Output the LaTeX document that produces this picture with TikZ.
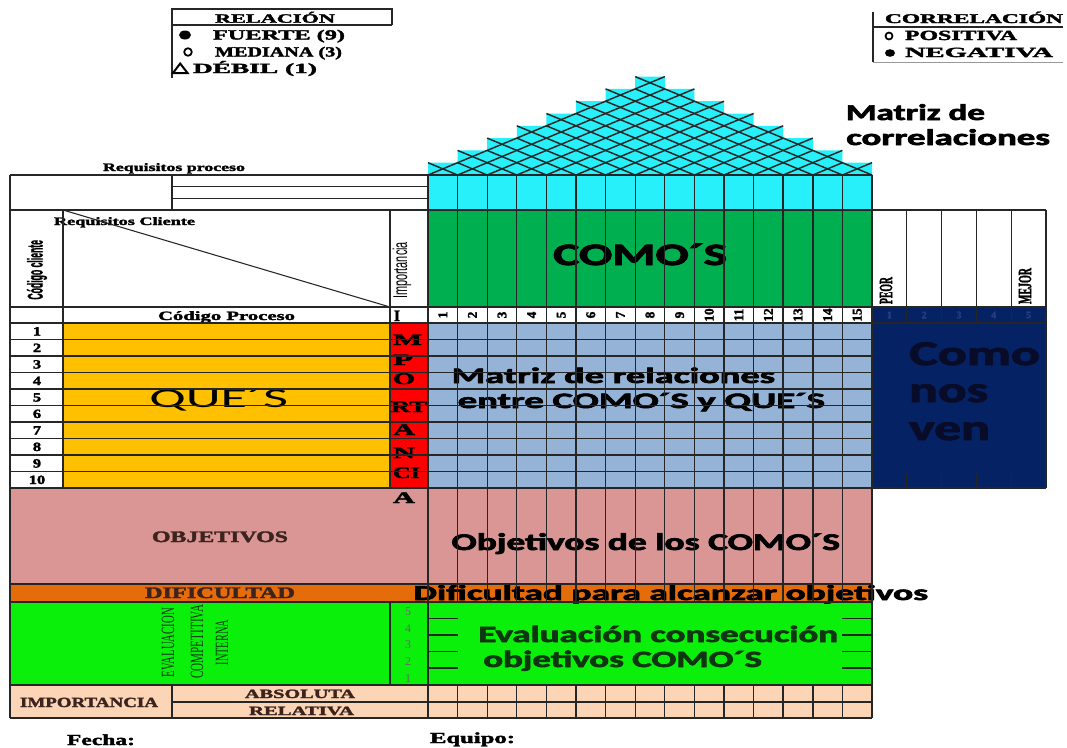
\documentclass[tikz,border=0pt]{standalone}
\usepackage{fontspec}
\usepackage{graphicx}
\setmainfont{Liberation Serif}[BoldFeatures={FakeBold=2}]
\newfontfamily\calib{Carlito}[BoldFeatures={FakeBold=2.5}]
\newfontfamily\arl{Liberation Sans}[BoldFeatures={FakeBold=1.5}]
\newdimen\px \px=0.75pt
\newcommand\fz[1]{\fontsize{#1}{#1}\selectfont}
\newcommand\fw[2]{\resizebox{#1\px}{\height}{#2}}
\definecolor{cy}{RGB}{40,240,250}
\definecolor{gr}{RGB}{0,176,80}
\definecolor{lb}{RGB}{149,179,215}
\definecolor{nv}{RGB}{5,35,100}
\definecolor{og}{RGB}{255,192,0}
\definecolor{rd}{RGB}{255,0,0}
\definecolor{pk}{RGB}{217,150,148}
\definecolor{do}{RGB}{228,108,10}
\definecolor{lg}{RGB}{10,240,10}
\definecolor{pc}{RGB}{251,213,181}
\definecolor{nvtxt}{RGB}{8,12,40}
\definecolor{nvnum}{RGB}{40,62,125}
\definecolor{dgtxt}{RGB}{15,55,15}
\definecolor{brtxt}{RGB}{60,35,30}
\begin{document}
\begin{tikzpicture}[x=0.75pt,y=-0.75pt,
  txt/.style={inner sep=0pt,outer sep=0pt,anchor=base west},
  ctr/.style={inner sep=0pt,outer sep=0pt,anchor=center},
  g/.style={line width=0.8pt,draw=black!85},
  gb/.style={line width=1.3pt,draw=black!85},
  roofln/.style={line width=1.1pt,draw=black!85}]
\useasboundingbox (0,0) rectangle (1067,747);
\fill[white] (0,0) rectangle (1067,747);

% ---------- fills ----------
\fill[cy] (428,175) -- (428,162.7) -- (457.6,162.7) -- (457.6,150.4) -- (487.2,150.4) -- (487.2,138.1) -- (516.8,138.1) -- (516.8,125.8) -- (546.4,125.8) -- (546.4,113.5) -- (576,113.5) -- (576,101.2) -- (605.6,101.2) -- (605.6,88.9) -- (635.2,88.9) -- (635.2,76.6) -- (664.8,76.6) -- (664.8,88.9) -- (694.4,88.9) -- (694.4,101.2) -- (724,101.2) -- (724,113.5) -- (753.6,113.5) -- (753.6,125.8) -- (783.2,125.8) -- (783.2,138.1) -- (812.8,138.1) -- (812.8,150.4) -- (842.4,150.4) -- (842.4,162.7) -- (872,162.7) -- (872,175) -- cycle;
\fill[cy] (428,175) rectangle (872,210);
\fill[gr] (428,210) rectangle (872,307);
\fill[lb] (428,323) rectangle (872,488);
\fill[og] (63,323) rectangle (390,488);
\fill[rd] (390,323) rectangle (428,488);
\fill[nv] (872,307) rectangle (1046,488);
\fill[pk] (10,488) rectangle (872,584);
\fill[do] (10,584) rectangle (872,602);
\fill[lg] (10,602) rectangle (872,685);
\fill[pc] (10,685) rectangle (872,718);

% ---------- roof lattice ----------
\foreach \i in {0,...,14} {
  \pgfmathtruncatemacro\K{floor((14-\i)/2)}
  \pgfmathsetmacro\xa{428+29.6*\i}
  \pgfmathsetmacro\xb{428+29.6*(\i+\K+1)}
  \pgfmathsetmacro\yb{175-12.3*(\K+1)}
  \draw[roofln] (\xa,175) -- (\xb,\yb);
}
\foreach \j in {1,...,15} {
  \pgfmathtruncatemacro\K{floor((\j-1)/2)}
  \pgfmathsetmacro\xa{428+29.6*\j}
  \pgfmathsetmacro\xb{428+29.6*(\j-\K-1)}
  \pgfmathsetmacro\yb{175-12.3*(\K+1)}
  \draw[roofln] (\xa,175) -- (\xb,\yb);
}

% ---------- legends ----------
\draw[g] (172,78) -- (172,9) -- (392,9) -- (392,25);
\draw[g] (172,25) -- (392,25);
\node[txt] (lrel) at (215,22.7) {\fw{120}{\fz{9.5}\bfseries RELACIÓN}};
\fill (185,35) ellipse [x radius=6, y radius=4.5];
\node[txt] (lfue) at (213,39.5) {\fw{132}{\fz{10.5}\bfseries FUERTE (9)}};
\draw[line width=1.3pt] (188,52) circle [radius=3.8];
\node[txt] (lmed) at (215,56.5) {\fw{127}{\fz{10.5}\bfseries MEDIANA (3)}};
\draw[line width=1.5pt] (173,73) -- (187.5,73) -- (180.2,63.5) -- cycle;
\node[txt] (ldeb) at (193,73) {\fw{124}{\fz{10.5}\bfseries DÉBIL (1)}};

\draw[g] (873,12) -- (873,62);
\draw[g] (873,27) -- (1063,27);
\draw[line width=0.6pt,draw=black!40] (873,62) -- (1063,62);
\node[txt] (lcor) at (885,23) {\fw{178}{\fz{10}\bfseries CORRELACIÓN}};
\draw[line width=1.3pt] (889,36) circle [radius=3.5];
\node[txt] (lpos) at (905,40) {\fw{112}{\fz{10.5}\bfseries POSITIVA}};
\fill (890,53) ellipse [x radius=5, y radius=3.8];
\node[txt] (lneg) at (905,57) {\fw{148}{\fz{10.5}\bfseries NEGATIVA}};

% ---------- big labels ----------
\node[txt] (mcor1) at (838,120) {\fw{147}{\calib\bfseries\fz{17} Matriz de}};
\node[txt] (mcor2) at (838,145) {\fw{212}{\calib\bfseries\fz{17} correlaciones}};
\node[txt] (comos) at (542,265) {\fw{185}{\calib\bfseries\fz{23.3} COMO´S}};
\node[txt] (ques) at (137,407) {\fw{151}{\calib\fz{20.5} QUE´S}};
\node[txt] (mrel1) at (443,383) {\fw{332}{\calib\bfseries\fz{16.5} Matriz de relaciones}};
\node[txt] (mrel2) at (449,408) {\fw{376}{\calib\bfseries\fz{16.5} entre COMO´S y QUE´S}};
\node[txt] (obj) at (443,550) {\fw{397}{\calib\bfseries\fz{18} Objetivos de los COMO´S}};
\node[txt] (dif) at (405,600) {\fw{523}{\calib\bfseries\fz{16} Dificultad para alcanzar objetivos}};
\node[txt,text=dgtxt] (eva1) at (470,642) {\fw{368}{\calib\bfseries\fz{17.5} Evaluación consecución}};
\node[txt,text=dgtxt] (eva2) at (475,667) {\fw{287}{\calib\bfseries\fz{17.5} objetivos COMO´S}};
\node[txt,text=nvtxt] (cnv1) at (897,365) {\fw{143}{\calib\bfseries\fz{26} Como}};
\node[txt,text=nvtxt] (cnv2) at (897,402) {\fw{91}{\calib\bfseries\fz{27} nos}};
\node[txt,text=nvtxt] (cnv3) at (897,440) {\fw{93}{\calib\bfseries\fz{27} ven}};

% ---------- small labels ----------
\node[txt] (rqp) at (103,171) {\fw{142}{\fz{8.5}\bfseries Requisitos proceso}};
\node[txt] (rqc) at (54,225) {\fw{141}{\fz{8.5}\bfseries Requisitos Cliente}};
\node[ctr,rotate=90] (cod) at (37,271) {\fw{62}{\arl\bfseries\fz{16} Código cliente}};
\node[ctr,rotate=90] (imp) at (402,272) {\fw{60}{\arl\fz{15} Importancia}};
\node[txt] (cpr) at (158,320) {\fw{137}{\fz{9.5}\bfseries Código Proceso}};
\node[ctr,rotate=90] (peor) at (886,290.5) {\fw{27}{\fz{14}\bfseries PEOR}};
\node[ctr,rotate=90] (mejor) at (1025,286) {\fw{36}{\fz{14}\bfseries MEJOR}};
\foreach \i in {1,...,15} {
  \pgfmathsetmacro\xc{428+29.6*\i-14.8}
  \node[ctr,rotate=90] (cn\i) at (\xc,315) {\fz{10}\bfseries\i};
}
\foreach \i in {1,...,5} {
  \pgfmathsetmacro\xc{872+34.8*\i-17.4}
  \node[ctr,text=nvnum] (vn\i) at (\xc,315) {\fz{7.5}\bfseries\i};
}
\foreach \i in {1,...,10} {
  \pgfmathsetmacro\yc{323+16.5*\i-4}
  \node[inner sep=0pt,anchor=base] (rn\i) at (37,\yc) {\scalebox{1.3}[1]{\fz{9.5}\bfseries\i}};
}
% IMPORTANCIA letters
\node[txt] (li) at (394,321) {\fw{6}{\fz{12}\bfseries I}};
\node[txt] (lm) at (393,345) {\fw{29}{\fz{12}\bfseries M}};
\node[txt] (lp) at (393,365) {\fw{20}{\fz{12}\bfseries P}};
\node[txt] (lo) at (393,384) {\fw{22}{\fz{12}\bfseries O}};
\node[txt] (lrt) at (391,412) {\fw{36}{\fz{12}\bfseries RT}};
\node[txt] (la1) at (393,435) {\fw{22}{\fz{12}\bfseries A}};
\node[txt] (ln) at (393,458) {\fw{22}{\fz{12}\bfseries N}};
\node[txt] (lci) at (393,478) {\fw{27}{\fz{12}\bfseries CI}};
\node[txt] (la2) at (393,503) {\fw{22}{\fz{12}\bfseries A}};

\node[txt,text=brtxt] (objl) at (152,542) {\fw{136}{\fz{12}\bfseries OBJETIVOS}};
\node[txt,text=brtxt] (difl) at (145,598) {\fw{150}{\fz{12}\bfseries DIFICULTAD}};
\node[ctr,rotate=90,text=dgtxt] (ev1) at (168,644) {\fw{72}{\fz{14} EVALUACION}};
\node[ctr,rotate=90,text=dgtxt] (ev2) at (197,643) {\fw{77}{\fz{14} COMPETITIVA}};
\node[ctr,rotate=90,text=dgtxt] (ev3) at (222,644) {\fw{48}{\fz{14} INTERNA}};
\foreach \v/\yy in {5/615,4/632,3/648,2/665,1/682}
  \node[inner sep=0pt,anchor=base,text=black!60] (sc\v) at (408,\yy) {\fz{9}\v};
\node[txt,text=brtxt] (impl) at (20,707) {\fw{138}{\fz{10.5}\bfseries IMPORTANCIA}};
\node[txt,text=brtxt] (abs) at (245,698) {\fw{110}{\fz{9.5}\bfseries ABSOLUTA}};
\node[txt,text=brtxt] (rel) at (249,715) {\fw{105}{\fz{9.5}\bfseries RELATIVA}};
\node[txt] (fecha) at (67,745) {\fw{68}{\fz{11.5}\bfseries Fecha:}};
\node[txt] (equipo) at (430,743) {\fw{85}{\fz{11.5}\bfseries Equipo:}};

% ---------- grid lines ----------
\draw[g] (10,175) -- (872,175);
\draw[g] (172,186.7) -- (428,186.7);
\draw[g] (172,198.3) -- (428,198.3);
\draw[g] (10,210) -- (1046,210);
\draw[g] (10,307) -- (1046,307);
\draw[g] (10,323) -- (1046,323);
\foreach \k in {1,...,9} {
  \pgfmathsetmacro\yc{323+16.5*\k}
  \draw[g] (10,\yc) -- (872,\yc);
}
\draw[g] (10,488) -- (1046,488);
\draw[g] (10,584) -- (872,584);
\draw[g] (10,602) -- (872,602);
\draw[g] (10,685) -- (872,685);
\draw[g] (172,702) -- (872,702);
\draw[g] (10,718) -- (872,718);
\foreach \yy in {618.5,635,651.5,668} {
  \draw[g] (428,\yy) -- (457.6,\yy);
  \draw[g] (842.4,\yy) -- (872,\yy);
}
\draw[g] (10,175) -- (10,718);
\draw[g] (172,175) -- (172,210);
\draw[g] (172,685) -- (172,718);
\draw[g] (63,210) -- (63,488);
\draw[g] (390,210) -- (390,488);
\draw[g] (390,602) -- (390,685);
\draw[g] (63,210) -- (390,307);
\foreach \i in {0,...,11} {
  \pgfmathsetmacro\xc{428+29.6*\i}
  \draw[g] (\xc,175) -- (\xc,602);
  \draw[g] (\xc,685) -- (\xc,718);
}
\foreach \i in {12,13,14} {
  \pgfmathsetmacro\xc{428+29.6*\i}
  \draw[gb] (\xc,175) -- (\xc,602);
  \draw[gb] (\xc,685) -- (\xc,718);
}
\draw[g] (428,602) -- (428,685);
\draw[g] (872,175) -- (872,718);
\foreach \k in {1,...,4} {
  \pgfmathsetmacro\xc{872+34.8*\k}
  \draw[g] (\xc,210) -- (\xc,323);
  \draw[g] (\xc,473) -- (\xc,488);
}
\draw[g] (1046,210) -- (1046,488);
\end{tikzpicture}
\end{document}
